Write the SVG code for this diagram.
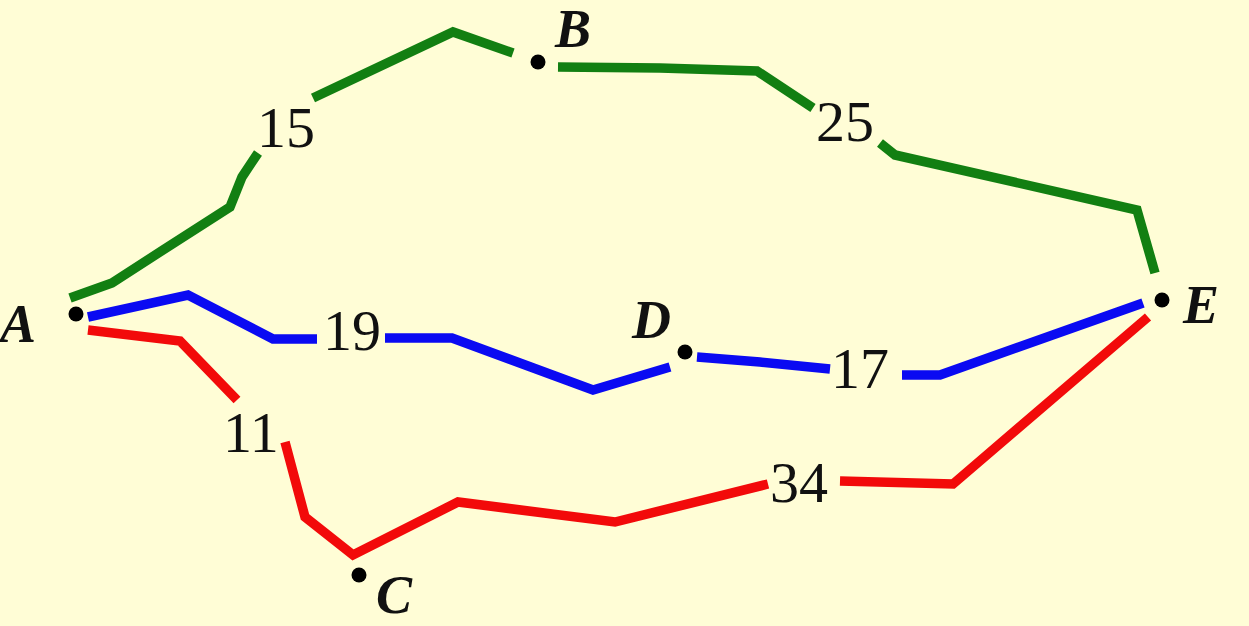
<svg xmlns="http://www.w3.org/2000/svg" width="1249" height="626" viewBox="0 0 1249 626">
<style>
.e{fill:none;stroke-width:9.5;stroke-linejoin:miter;stroke-linecap:butt}
.g{stroke:#127F12}
.b{stroke:#0A0AF2}
.r{stroke:#F20A0A}
.w{font-family:"Liberation Serif","Times New Roman",serif;font-size:58px;fill:#111}
.n{font-family:"Liberation Serif","Times New Roman",serif;font-size:54px;font-weight:bold;font-style:italic;fill:#111}
.d{fill:#000}
</style>
<rect width="1249" height="626" fill="#FFFDD6"/>
<g id="connectors">
<polyline class="e g" points="70,298 112,283 163,250 230,207 242,177 258,153"/>
<polyline class="e g" points="313,98 453,32 513,53"/>
<polyline class="e g" points="558,67 660,68 757,71 813,108"/>
<polyline class="e g" points="880,143 895,155 1137,210 1155,273"/>
<polyline class="e b" points="88,317 188,295 273,339 317,339"/>
<polyline class="e b" points="385,338 452,338 593,390 670,367"/>
<polyline class="e b" points="697,357 760,362 830,369"/>
<polyline class="e b" points="902,375 940,375 1143,303"/>
<polyline class="e r" points="88,330 180,341 237,400"/>
<polyline class="e r" points="285,442 305,517 353,555 458,502 615,522 768,484"/>
<polyline class="e r" points="840,481 953,484 1148,317"/>
</g>
<g id="labels">
<text class="w" x="257" y="147">15</text>
<text class="w" x="816" y="141">25</text>
<text class="w" x="323" y="350">19</text>
<text class="w" x="831" y="388">17</text>
<text class="w" x="223" y="452">11</text>
<text class="w" x="770" y="502">34</text>
</g>
<g id="node-A"><circle class="d" cx="76" cy="314" r="7.5"/><text class="n" x="0" y="342">A</text></g>
<g id="node-B"><circle class="d" cx="538" cy="62" r="7.5"/><text class="n" x="555" y="47">B</text></g>
<g id="node-C"><circle class="d" cx="359" cy="575" r="7.5"/><text class="n" x="376" y="613">C</text></g>
<g id="node-D"><circle class="d" cx="685" cy="352" r="7.5"/><text class="n" x="632" y="338">D</text></g>
<g id="node-E"><circle class="d" cx="1162" cy="300" r="7.5"/><text class="n" x="1183" y="323">E</text></g>
</svg>
